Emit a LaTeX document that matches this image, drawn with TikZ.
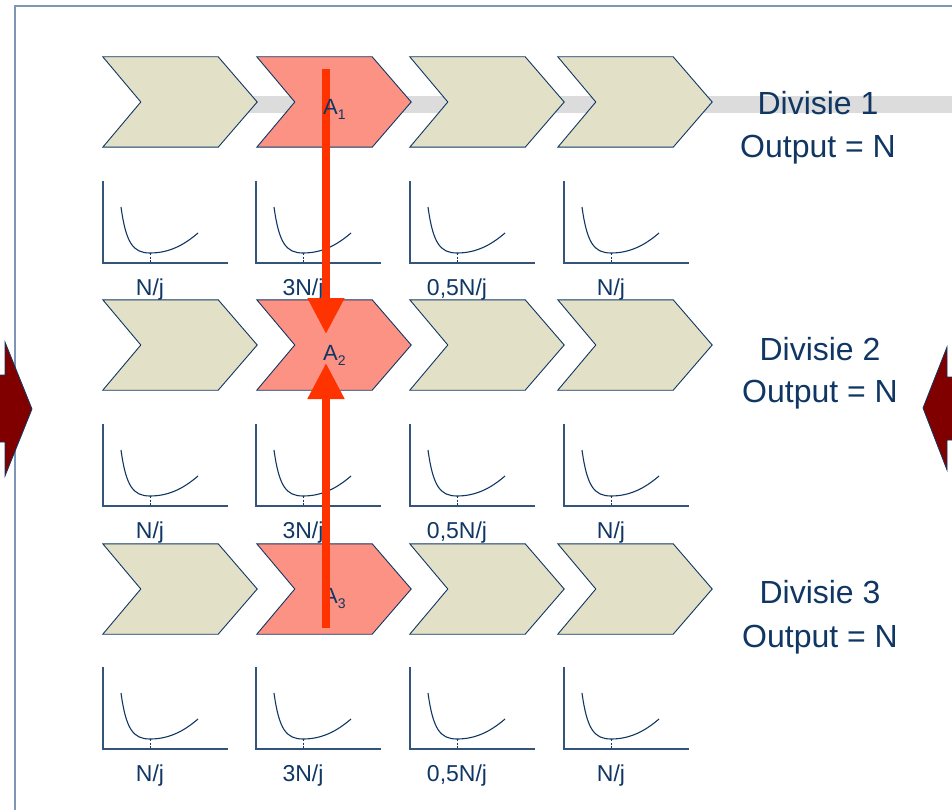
\documentclass[tikz,border=0pt]{standalone}
\usepackage{fontspec}
\setmainfont{Liberation Sans}
\usetikzlibrary{arrows.meta,calc}

\definecolor{navy}{HTML}{103764}
\definecolor{framec}{HTML}{7D96B6}
\definecolor{beige}{HTML}{E2E0C6}
\definecolor{salmon}{HTML}{FC9284}
\definecolor{redline}{HTML}{FF3300}
\definecolor{darkred}{HTML}{800000}
\definecolor{band}{HTML}{DCDCDC}

% labels under the small cost curves
\newcommand\gl[1]{\ifcase#1\or N/j\or 3N/j\or 0,5N/j\or N/j\fi}

\begin{document}
\begin{tikzpicture}[x=1pt,y=-1pt,
  chevbox/.style={rectangle,inner sep=0pt,minimum width=154pt,minimum height=90pt},
  chevline/.style={draw=navy,line width=0.9pt,line join=miter},
  axisline/.style={draw=navy!85!white,line width=1.3pt},
  curveline/.style={draw=navy,line width=1.1pt},
  guide/.style={draw=navy,line width=0.7pt,dash pattern=on 2pt off 1.5pt},
  divtext/.style={text=navy,font=\fontsize{32}{38}\selectfont,inner sep=0pt,anchor=base},
  gltext/.style={text=navy,font=\fontsize{23}{26}\selectfont,inner sep=0pt},
  atext/.style={text=navy,font=\fontsize{22}{26}\selectfont,inner sep=0pt,anchor=base west},
  flow/.style={draw=redline,line width=8pt,-{Triangle[width=35pt,length=36pt]}},
  sidearrow/.style={fill=darkred,draw=navy,line width=0.8pt}]

\useasboundingbox (0,0) rectangle (952,810);
\clip (0,0) rectangle (952,810);
\fill[white] (0,0) rectangle (952,810);

% outer frame
\draw[framec,line width=2.2pt] (15,820) -- (15,6) -- (960,6);

% grey band behind the first row
\fill[band] (200,96) rectangle (960,113);

% chevron rows
\foreach \ro/\yt in {1/57,2/300,3/544} {
  \foreach \co/\xl/\fc in {1/103/beige,2/257/salmon,3/410/beige,4/558/beige} {
    \node[chevbox] (r\ro\co) at (\xl+77,\yt+45) {};
    \path[chevline,fill=\fc] (r\ro\co.north west)
      -- ($(r\ro\co.north east)+(-39,0)$) -- (r\ro\co.east)
      -- ($(r\ro\co.south east)+(-39,0)$) -- (r\ro\co.south west)
      -- ($(r\ro\co.west)+(38,0)$) -- cycle;
  }
}

% small cost curves with their labels
\foreach \ro/\gy in {1/263,2/506,3/749} {
  \foreach \co/\gx in {1/103,2/256,3/410,4/564} {
    \begin{scope}[shift={(\gx,\gy)}]
      \coordinate (g\ro\co) at (0,0);
      \draw[axisline] (0,-82) -- (g\ro\co) -- (125,0);
      \draw[curveline] (18,-56) .. controls (23,-20) and (30,-10) .. (47,-10)
        .. controls (65,-10) and (80,-17) .. (95,-30);
      \draw[guide] (47,-10) -- (47,0);
      \node[gltext] (l\ro\co) at (47,26.5) {\gl{\co}};
    \end{scope}
  }
}

% division captions
\node[divtext] (d1) at (818,115) {Divisie 1};
\node[divtext] (o1) at (818,158) {Output = N};
\node[divtext] (d2) at (820,360) {Divisie 2};
\node[divtext] (o2) at (820,402) {Output = N};
\node[divtext] (d3) at (820,603) {Divisie 3};
\node[divtext] (o3) at (820,647) {Output = N};

% activity labels
\node[atext] (a2) at (323,360) {A\raisebox{-5pt}{\fontsize{14}{14}\selectfont 2}};
\node[atext] (a3) at (323,603) {A\raisebox{-5pt}{\fontsize{14}{14}\selectfont 3}};

% vertical flows between divisions
\coordinate (f1s) at (326,69);
\coordinate (f1e) at (326,334);
\coordinate (f2s) at (326,628);
\coordinate (f2e) at (326,363);
\draw[flow] (f1s) -- (f1e);
\draw[flow] (f2s) -- (f2e);

\node[atext] (a1) at (323,115) {A\raisebox{-5pt}{\fontsize{14}{14}\selectfont 1}};

% side arrows at the page edges
\path[sidearrow] (-10,375) -- (5,375) -- (5,342) -- (32,409) -- (5,476) -- (5,442) -- (-10,442) -- cycle;
\path[sidearrow] (962,377) -- (947,377) -- (947,347) -- (923,408) -- (947,470) -- (947,440) -- (962,440) -- cycle;
\end{tikzpicture}
\end{document}
